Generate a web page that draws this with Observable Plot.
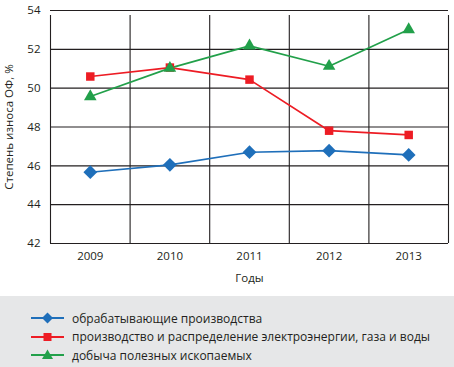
<!DOCTYPE html>
<html>
<head>
<meta charset="utf-8">
<script src="https://cdn.jsdelivr.net/npm/d3@7"></script>
<script src="https://cdn.jsdelivr.net/npm/@observablehq/plot@0.6"></script>
<style>
  html, body { margin: 0; padding: 0; background: #fff; }
  body { width: 454px; height: 367px; overflow: hidden; font-family: "Open Sans", sans-serif; color: #231f20; }
  #legend { background: #e6e7e8; margin-top: 6px; height: 71px; box-sizing: border-box; padding-top: 13px; }
  .item { display: flex; align-items: center; height: 18.5px; font-size: 12px; }
  .item svg { margin-left: 31px; margin-right: 8px; }
</style>
</head>
<body>
<div id="chart"></div>
<div id="legend"></div>
<script>
const years = [2009, 2010, 2011, 2012, 2013];
const seriesNames = [
  "обрабатывающие производства",
  "производство и распределение электроэнергии, газа и воды",
  "добыча полезных ископаемых"
];
const manufacturing = [45.67, 46.05, 46.7, 46.78, 46.56];
const utilities = [50.6, 51.06, 50.44, 47.81, 47.59];
const mining = [49.57, 51.03, 52.18, 51.13, 53.02];
const colors = ["#1f6fba", "#ed1c24", "#22a04a"];
const symbols = ["diamond2", "square2", "triangle2"];
const symbolRadii = [6.2, 5.4, 6];
const yTicks = [42, 44, 46, 48, 50, 52, 54];

const valuesList = [manufacturing, utilities, mining];
const data = [];
valuesList.forEach((vals, s) => vals.forEach((v, i) => data.push({year: years[i], value: v, series: seriesNames[s], s})));
const bounds = [years[0] - 0.5, ...years.map(y => y + 0.5)];
const ink = "#231f20";

const chart = Plot.plot({
  width: 454,
  height: 290,
  marginLeft: 50,
  marginRight: 6,
  marginTop: 10,
  marginBottom: 47,
  style: {fontFamily: "Open Sans, sans-serif", fontSize: "11.5px", color: ink, background: "#fff"},
  x: {domain: [bounds[0], bounds[bounds.length - 1]]},
  y: {domain: [42, 54]},
  marks: [
    Plot.ruleY(yTicks, {stroke: ink, strokeWidth: 1.1, strokeOpacity: 1}),
    Plot.ruleX(bounds, {y1: 42, y2: 54, stroke: ink, strokeWidth: 1.1, strokeOpacity: 1, insetBottom: -5}),
    Plot.axisX(years, {tickSize: 0, tickPadding: 8, tickFormat: d => String(d), label: "Годы", labelAnchor: "center", labelArrow: "none", labelOffset: 38, fontSize: 11.5}),
    Plot.axisY(yTicks, {tickSize: 0, tickPadding: 10, label: "Степень износа ОФ, %", labelAnchor: "center", labelArrow: "none", labelOffset: 46, fontSize: 11.5}),
    Plot.line(data, {x: "year", y: "value", z: "series", stroke: d => colors[d.s], strokeWidth: 1.7}),
    ...valuesList.map((vals, s) =>
      Plot.dot(data.filter(d => d.s === s), {x: "year", y: "value", symbol: symbols[s], fill: colors[s], r: symbolRadii[s], stroke: "none"})
    )
  ]
});
document.getElementById("chart").appendChild(chart);

const legend = document.getElementById("legend");
seriesNames.forEach((name, s) => {
  const item = document.createElement("div");
  item.className = "item";
  const shapes = [
    `<polygon points="16.5,1.5 22,7 16.5,12.5 11,7" fill="${colors[s]}"/>`,
    `<rect x="12.5" y="3" width="8" height="8" fill="${colors[s]}"/>`,
    `<polygon points="16.5,1.5 22,11 11,11" fill="${colors[s]}"/>`
  ];
  item.innerHTML = `<svg width="33" height="14"><line x1="0" x2="33" y1="7" y2="7" stroke="${colors[s]}" stroke-width="2"/>${shapes[s]}</svg><span>${name}</span>`;
  legend.appendChild(item);
});
</script>
</body>
</html>
